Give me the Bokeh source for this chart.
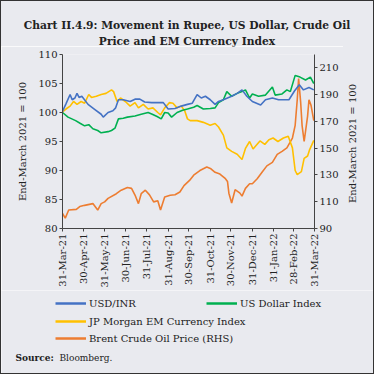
import pandas as pd
from math import pi
from bokeh.plotting import figure
from bokeh.layouts import column, row
from bokeh.models import Range1d, LinearAxis, FixedTicker, Legend, LegendItem, Div, Label
from bokeh.embed import file_html
from bokeh.resources import INLINE

FONT = "DejaVu Serif"
BG = "#e9eaef"
TXT = "#222222"
W = 372

start = pd.Timestamp("2021-03-31")
tick_labels = ["31-Mar-21", "30-Apr-21", "31-May-21", "30-Jun-21", "31-Jul-21", "31-Aug-21",
               "30-Sep-21", "31-Oct-21", "30-Nov-21", "31-Dec-21", "31-Jan-22", "28-Feb-22", "31-Mar-22"]

# days since 31-Mar-21 and index values (End-March 2021 = 100)
usd_inr_days = [0, 5, 11, 14, 18, 21, 24, 28, 37, 46, 56, 59, 66, 73, 77, 81, 88, 98, 105, 112, 119, 129,
                140, 146, 153, 163, 172, 181, 188, 195, 201, 207, 214, 221, 226, 233, 245, 253, 260, 267,
                275, 287, 294, 304, 313, 328, 336, 343, 349, 357, 364]
usd_inr = [100.2, 101.5, 103.1, 102.2, 102.5, 103.3, 102.6, 102.8, 101.4, 100.6, 99.7, 99.2, 100.0, 100.3,
           100.8, 102.2, 102.2, 101.9, 102.3, 102.3, 101.8, 101.7, 101.7, 101.7, 100.6, 100.7, 101.1, 101.4,
           101.6, 103.1, 102.5, 102.8, 102.2, 101.4, 101.9, 102.2, 102.8, 103.3, 103.9, 102.8, 101.9, 101.3,
           102.2, 102.5, 102.2, 102.2, 103.7, 104.8, 103.9, 104.3, 103.9]

dxy_days = [0, 8, 19, 26, 32, 38, 44, 51, 56, 66, 71, 76, 81, 88, 94, 105, 114, 124, 130, 137, 143, 148,
            153, 158, 166, 174, 181, 190, 195, 204, 214, 221, 226, 233, 238, 245, 253, 260, 265, 271, 275,
            284, 294, 304, 308, 318, 325, 330, 337, 344, 352, 359, 364]
dxy = [100.0, 99.2, 98.6, 98.1, 97.7, 97.9, 97.2, 96.9, 96.5, 96.7, 96.9, 97.3, 98.9, 99.0, 99.2, 99.4,
       99.7, 100.0, 99.7, 99.3, 98.9, 100.0, 99.9, 99.2, 100.0, 100.4, 100.6, 100.9, 101.2, 100.6, 100.7,
       100.8, 101.7, 102.2, 103.6, 102.8, 103.3, 103.6, 103.9, 102.5, 103.2, 102.8, 103.0, 104.4, 103.0,
       103.2, 103.9, 103.6, 106.4, 106.1, 105.6, 106.1, 105.0]

em_days = [0, 5, 11, 16, 21, 27, 32, 38, 42, 49, 56, 63, 71, 74, 79, 84, 91, 98, 105, 110, 117, 124, 131,
           138, 142, 148, 155, 160, 166, 172, 177, 181, 185, 195, 204, 214, 221, 226, 233, 238, 245, 253,
           260, 265, 271, 276, 286, 293, 299, 305, 312, 320, 327, 333, 337, 340, 346, 350, 355, 358, 364]
em = [100.1, 100.6, 101.1, 101.9, 101.4, 101.9, 101.6, 103.1, 102.6, 102.8, 103.1, 103.3, 103.9, 103.6,
      101.9, 102.5, 101.9, 101.1, 101.7, 100.8, 101.4, 100.6, 100.8, 100.0, 99.6, 100.8, 101.7, 101.6,
      100.8, 101.1, 100.3, 98.9, 98.6, 98.6, 98.3, 97.8, 98.1, 97.5, 96.1, 93.9, 93.3, 92.8, 91.9, 93.8,
      95.0, 93.7, 95.1, 94.5, 95.3, 95.6, 95.0, 95.6, 95.9, 93.9, 90.0, 89.3, 89.8, 92.1, 92.5, 93.6, 95.2]

brent_days = [0, 4, 9, 20, 25, 32, 44, 51, 56, 61, 66, 78, 85, 94, 100, 105, 110, 114, 120, 126, 132, 138,
              142, 148, 156, 163, 170, 176, 184, 190, 199, 209, 215, 221, 228, 236, 239, 241, 245, 250, 257,
              260, 265, 271, 275, 282, 289, 296, 304, 311, 318, 325, 333, 337, 340, 342, 345, 347, 350, 355,
              357, 360, 364]
brent = [101.2, 97.8, 103.8, 104.3, 106.4, 107.3, 108.6, 103.8, 108.6, 109.9, 112.5, 116.0, 118.6, 120.7,
         120.0, 115.0, 108.6, 116.0, 118.6, 115.1, 109.9, 110.8, 103.8, 113.5, 114.8, 115.2, 117.3, 122.0,
         125.9, 129.8, 133.3, 135.9, 134.6, 132.0, 130.7, 127.2, 125.1, 116.4, 109.0, 119.0, 116.4, 114.2,
         120.0, 123.4, 123.4, 127.2, 132.0, 136.8, 139.4, 145.4, 147.6, 150.2, 157.6, 167.1, 186.2, 202.0,
         184.0, 167.1, 155.0, 174.0, 186.2, 182.0, 170.6]

left_ticks = [80, 85, 90, 95, 100, 105, 110]
right_ticks = [90, 110, 130, 150, 170, 190, 210]
axis_title = "End-March 2021 = 100"
series_names = ["USD/INR", "US Dollar Index", "JP Morgan EM Currency Index", "Brent Crude Oil Price (RHS)"]
series_colors = ["#4472c4", "#00b050", "#ffc000", "#ed7d31"]
series_days = [usd_inr_days, dxy_days, em_days, brent_days]
series_vals = [usd_inr, dxy, em, brent]

tick_pos = [int((pd.to_datetime(t, format="%d-%b-%y") - start).days) for t in tick_labels]

MAIN_W = 342
MAIN_H = 244
LW = 1.6

p = figure(width=MAIN_W, height=MAIN_H,
           min_border_left=61, min_border_right=MAIN_W - 61 - 252, min_border_top=8,
           min_border_bottom=MAIN_H - 8 - 179,
           x_range=Range1d(0, tick_pos[-1]), y_range=Range1d(80, 110),
           output_backend="svg", toolbar_location=None,
           background_fill_color=BG, border_fill_color=BG)
p.xgrid.visible = False
p.ygrid.visible = False
p.outline_line_color = None
p.extra_y_ranges = {"rhs": Range1d(90, 220)}

def style_axis(ax):
    ax.axis_line_color = "#444444"
    ax.major_tick_line_color = "#444444"
    ax.major_tick_in = 0
    ax.major_tick_out = 3
    ax.major_label_standoff = 2
    ax.minor_tick_line_color = None
    ax.major_label_text_font = FONT
    ax.major_label_text_font_size = "10px"
    ax.major_label_text_color = TXT
    ax.axis_label_text_font = FONT
    ax.axis_label_text_font_size = "10px"
    ax.axis_label_text_font_style = "normal"
    ax.axis_label_text_color = TXT
    ax.axis_label_standoff = 7

xa = p.xaxis[0]
xa.ticker = FixedTicker(ticks=tick_pos)
xa.major_label_overrides = {pos: lab for pos, lab in zip(tick_pos, tick_labels)}
xa.major_label_orientation = pi / 2
style_axis(xa)

ya = p.yaxis[0]
ya.ticker = FixedTicker(ticks=left_ticks)
ya.axis_label = axis_title
style_axis(ya)

ra = LinearAxis(y_range_name="rhs", ticker=FixedTicker(ticks=right_ticks))
style_axis(ra)
p.add_layout(ra, "right")

for i in [3, 2, 1, 0]:
    kw = {"y_range_name": "rhs"} if i == 3 else {}
    p.line(series_days[i], series_vals[i], color=series_colors[i], line_width=LW, **kw)

# right-hand axis title, reading bottom to top
side = Div(text=axis_title, width=W - MAIN_W, height=MAIN_H, margin=0,
           styles={"background-color": BG, "writing-mode": "vertical-rl",
                   "transform": "rotate(180deg)", "text-align": "center",
                   "line-height": "19px", "padding-top": "49px", "box-sizing": "border-box",
                   "font-family": FONT, "font-size": "10px", "color": TXT, "white-space": "nowrap"})

def blank_fig(w, h):
    # ranges far from the data so that the key renderers stay off-screen
    f = figure(width=w, height=h, min_border=0, x_range=Range1d(-20, -10), y_range=Range1d(-20, -10),
               x_axis_location=None, y_axis_location=None, output_backend="svg",
               toolbar_location=None, background_fill_color=BG, border_fill_color=BG)
    f.xgrid.visible = False
    f.ygrid.visible = False
    f.outline_line_color = None
    return f

def label(f, text, x, y, size="10px", bold=False, align="left"):
    f.add_layout(Label(x=x, y=y, x_units="screen", y_units="screen", text=text,
                       text_align=align, text_baseline="middle", text_font=FONT,
                       text_font_size=size, text_font_style="bold" if bold else "normal",
                       text_color=TXT))

# legend + source strip
BOT_H = 83
bot = blank_fig(W, BOT_H)
key = [bot.line(series_days[i], series_vals[i], color=series_colors[i], line_width=2.5)
       for i in range(4)]

def make_legend(items, loc, **kw):
    lg = Legend(items=items, location=loc, padding=0, margin=0, border_line_alpha=0,
                background_fill_alpha=0, glyph_width=31, glyph_height=14, label_height=14,
                label_standoff=3, label_text_font=FONT, label_text_font_size="10px",
                label_text_color=TXT, **kw)
    bot.add_layout(lg)

make_legend([LegendItem(label=series_names[0], renderers=[key[0]]),
             LegendItem(label=series_names[1], renderers=[key[1]])], (54, 63),
            orientation="horizontal", spacing=7, label_width=110)
make_legend([LegendItem(label=series_names[2], renderers=[key[2]])], (54, 45))
make_legend([LegendItem(label=series_names[3], renderers=[key[3]])], (54, 28))
label(bot, "Source:", 14, 16, size="9px", bold=True)
label(bot, "Bloomberg.", 58, 16, size="9px")

title = Div(text="Chart II.4.9: Movement in Rupee, US Dollar, Crude Oil<br>Price and EM Currency Index",
            width=W, height=45, margin=0,
            styles={"background-color": BG, "font-family": FONT, "font-size": "10.7px",
                    "font-weight": "bold", "text-align": "center",
                    "line-height": "16px", "padding-top": "17px", "box-sizing": "border-box",
                    "color": TXT})

layout = column(title, row(p, side, spacing=0), bot, spacing=0,
                styles={"border": "1px solid #333333"})

open("out.html", "w").write(file_html(layout, INLINE))
